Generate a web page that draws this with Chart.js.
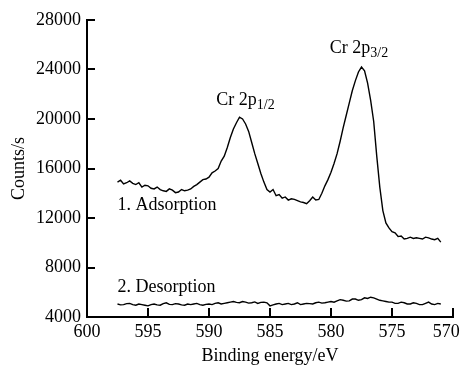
<!DOCTYPE html>
<html>
<head>
<meta charset="utf-8">
<script src="https://cdn.jsdelivr.net/npm/chart.js@4/dist/chart.umd.min.js"></script>
<style>
  html, body { margin: 0; padding: 0; background: #fff; }
  #box { width: 463px; height: 367px; }
</style>
</head>
<body>
<div id="box"><canvas id="xps"></canvas></div>
<script>
// binding energies (eV), one reading every 0.25 eV
const energies = [
  597.5, 597.25, 597.0, 596.75, 596.5, 596.25, 596.0, 595.75, 595.5, 595.25,
  595.0, 594.75, 594.5, 594.25, 594.0, 593.75, 593.5, 593.25, 593.0, 592.75,
  592.5, 592.25, 592.0, 591.75, 591.5, 591.25, 591.0, 590.75, 590.5, 590.25,
  590.0, 589.75, 589.5, 589.25, 589.0, 588.75, 588.5, 588.25, 588.0, 587.75,
  587.5, 587.25, 587.0, 586.75, 586.5, 586.25, 586.0, 585.75, 585.5, 585.25,
  585.0, 584.75, 584.5, 584.25, 584.0, 583.75, 583.5, 583.25, 583.0, 582.75,
  582.5, 582.25, 582.0, 581.75, 581.5, 581.25, 581.0, 580.75, 580.5, 580.25,
  580.0, 579.75, 579.5, 579.25, 579.0, 578.75, 578.5, 578.25, 578.0, 577.75,
  577.5, 577.25, 577.0, 576.75, 576.5, 576.25, 576.0, 575.75, 575.5, 575.25,
  575.0, 574.75, 574.5, 574.25, 574.0, 573.75, 573.5, 573.25, 573.0, 572.75,
  572.5, 572.25, 572.0, 571.75, 571.5, 571.25, 571.0
];

const adsorption = [
  14900, 15050, 14750, 14850, 15000, 14800, 14700, 14850, 14500, 14650,
  14600, 14400, 14350, 14500, 14300, 14200, 14150, 14350, 14250, 14050,
  14100, 14300, 14200, 14250, 14350, 14550, 14700, 14900, 15100, 15150,
  15300, 15650, 15800, 16000, 16600, 17000, 17700, 18500, 19200, 19700,
  20150, 20000, 19600, 19000, 18100, 17200, 16400, 15600, 14900, 14300,
  14100, 14300, 13800, 13900, 13600, 13700, 13450, 13550, 13500, 13400,
  13300, 13250, 13150, 13400, 13700, 13450, 13500, 14000, 14600, 15100,
  15700, 16400, 17200, 18200, 19300, 20300, 21300, 22300, 23100, 23800,
  24200, 23900, 22900, 21500, 19800, 17000, 14500, 12600, 11600, 11200,
  10900, 10800, 10500, 10550, 10300, 10350, 10450, 10350, 10400, 10350,
  10300, 10450, 10400, 10300, 10250, 10350, 10050
];

const desorption = [
  5050, 4980, 5000, 5080, 5100, 5000, 4950, 5050, 5000, 4950,
  4900, 5000, 5050, 4980, 4950, 5080, 5150, 5020, 5000, 5080,
  5050, 4980, 4950, 5050, 5000, 5050, 5100, 5000, 4950, 5020,
  5050, 5000, 5100, 5150, 5050, 5100, 5150, 5200, 5250, 5180,
  5150, 5250, 5200, 5120, 5150, 5220, 5100, 5180, 5200, 5150,
  4900, 4980, 5050, 5100, 5000, 5050, 5100, 5000, 5050, 5150,
  5000, 5050, 5100, 5080, 5050, 5150, 5200, 5120, 5150, 5200,
  5250, 5200, 5300, 5400, 5350, 5280, 5300, 5450, 5450, 5350,
  5400, 5550, 5500, 5600, 5550, 5450, 5350, 5300, 5250, 5200,
  5200, 5100, 5100, 5200, 5150, 5050, 5050, 5150, 5100, 5000,
  5000, 5100, 5200, 5050, 5000, 5100, 5050
];

const xTicks = [600, 595, 590, 585, 580, 575, 570];
const yTicks = [4000, 8000, 12000, 16000, 20000, 24000, 28000];

// text labels placed in data units: [energy, counts, text, subscript]
const notes = [
  [589.4, 21500, 'Cr 2p', '1/2'],
  [580.1, 25700, 'Cr 2p', '3/2'],
  [597.5, 13000, '1. Adsorption', ''],
  [597.5, 6400, '2. Desorption', '']
];

const serif = '"Liberation Serif", "Times New Roman", serif';

const toPoints = (ys) => energies.map((e, i) => ({ x: e, y: ys[i] }));

const innerTicks = {
  id: 'innerTicks',
  afterDraw(chart) {
    const { ctx, chartArea, scales } = chart;
    ctx.save();
    ctx.strokeStyle = '#000';
    ctx.lineWidth = 2;
    ctx.beginPath();
    xTicks.forEach(v => {
      if (v === 600) return;
      const px = Math.round(scales.x.getPixelForValue(v));
      ctx.moveTo(px, chartArea.bottom);
      ctx.lineTo(px, chartArea.bottom - 9);
    });
    yTicks.forEach(v => {
      if (v === 4000) return;
      const py = Math.round(scales.y.getPixelForValue(v));
      ctx.moveTo(chartArea.left, py);
      ctx.lineTo(chartArea.left + 8, py);
    });
    ctx.stroke();

    ctx.fillStyle = '#000';
    ctx.textBaseline = 'middle';
    ctx.textAlign = 'left';
    notes.forEach(([e, c, text, sub]) => {
      const px = scales.x.getPixelForValue(e);
      const py = scales.y.getPixelForValue(c);
      ctx.font = '18px ' + serif;
      ctx.fillText(text, px, py);
      if (sub) {
        const w = ctx.measureText(text).width;
        ctx.font = '14px ' + serif;
        ctx.fillText(sub, px + w, py + 5);
      }
    });
    ctx.restore();
  }
};

const lineStyle = {
  borderColor: '#000',
  borderWidth: 1.4,
  pointRadius: 0,
  tension: 0,
  fill: false
};

new Chart(document.getElementById('xps'), {
  type: 'line',
  data: {
    datasets: [
      { label: 'Adsorption', data: toPoints(adsorption), ...lineStyle },
      { label: 'Desorption', data: toPoints(desorption), ...lineStyle }
    ]
  },
  options: {
    animation: false,
    responsive: true,
    maintainAspectRatio: false,
    layout: {
      padding: { top: 20, right: 10, left: 0, bottom: 0 }
    },
    plugins: {
      legend: { display: false },
      tooltip: { enabled: false }
    },
    scales: {
      x: {
        type: 'linear',
        reverse: true,
        min: 570,
        max: 600,
        afterBuildTicks: s => { s.ticks = xTicks.map(v => ({ value: v })); },
        afterFit: s => { s.height = 50; s.paddingLeft = 0; s.paddingRight = 0; },
        border: { display: true, color: '#000', width: 2 },
        grid: { drawOnChartArea: false, drawTicks: false },
        ticks: {
          color: '#000',
          padding: 4,
          maxRotation: 0,
          // the last label sits a little left of its tick, as in the figure
          callback: v => (v === 570 ? '570   ' : String(v)),
          font: { family: serif, size: 18 }
        },
        title: {
          display: true,
          text: 'Binding energy/eV',
          color: '#000',
          padding: { top: 0, bottom: 0 },
          font: { family: serif, size: 18 }
        }
      },
      y: {
        min: 4000,
        max: 28000,
        afterBuildTicks: s => { s.ticks = yTicks.map(v => ({ value: v })); },
        afterFit: s => { s.width = 87; },
        border: { display: true, color: '#000', width: 2 },
        grid: { drawOnChartArea: false, drawTicks: false },
        ticks: {
          color: '#000',
          padding: 6,
          callback: v => String(v),
          font: { family: serif, size: 18 }
        },
        title: {
          display: true,
          text: 'Counts/s',
          color: '#000',
          padding: { top: 8, bottom: 0 },
          font: { family: serif, size: 18 }
        }
      }
    }
  },
  plugins: [innerTicks]
});
</script>
</body>
</html>
